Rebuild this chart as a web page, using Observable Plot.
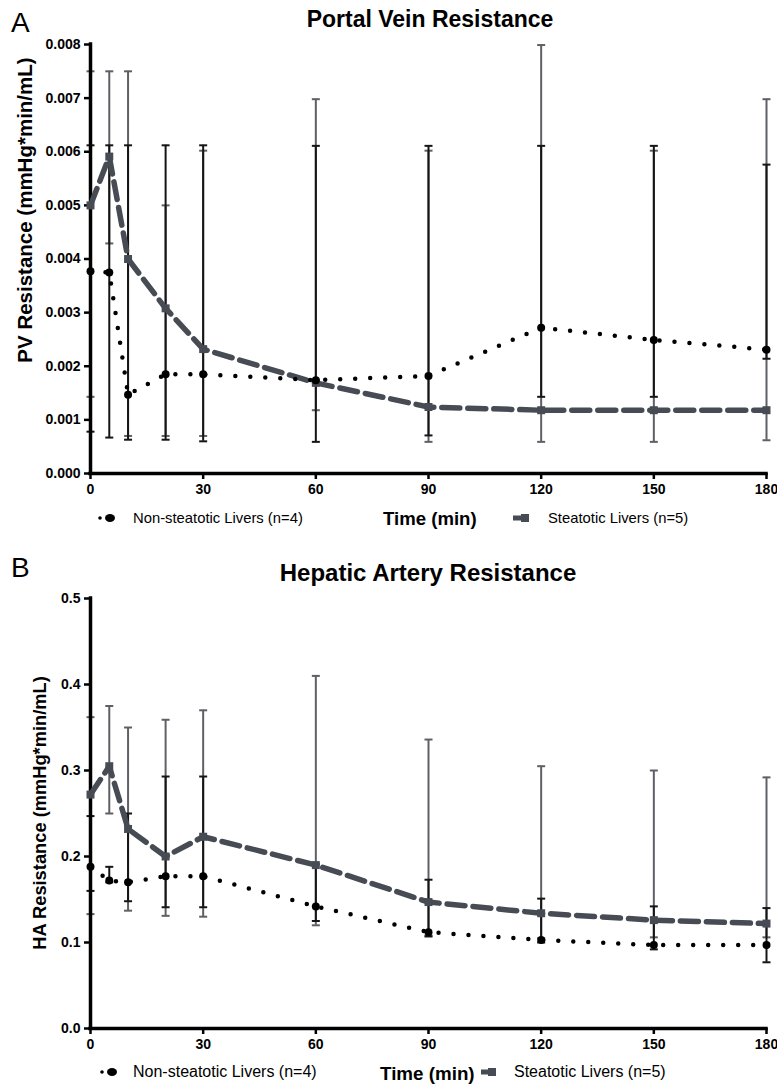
<!DOCTYPE html>
<html><head><meta charset="utf-8">
<script src="https://cdn.jsdelivr.net/npm/d3@7"></script>
<script src="https://cdn.jsdelivr.net/npm/@observablehq/plot@0.6"></script>
<style>
body{margin:0;background:#fff;font-family:"Liberation Sans",Arial,sans-serif;color:#000;}
#wrap{position:relative;width:777px;height:1089px;overflow:hidden;background:#fff;}
.abs{position:absolute;white-space:nowrap;line-height:1;}
.c{transform:translate(-50%,-50%);}
.rot{transform:translate(-50%,-50%) rotate(-90deg);}
.vm{transform:translateY(-50%);}
</style></head><body><div id="wrap"></div>
<script>
// ---------- data ----------
const time = [0, 5, 10, 20, 30, 60, 90, 120, 150, 180];
const xTicks = [0, 30, 60, 90, 120, 150, 180];

// Panel A: Portal vein resistance (mmHg*min/mL)
const pvNonMed = [0.00377, 0.00375, 0.00147, 0.00185, 0.00185, 0.00174, 0.00182, 0.00272, 0.00249, 0.00231];
const pvNonLo  = [0.00078, 0.00067, 0.00063, 0.00063, 0.00060, 0.00059, 0.00071, 0.00143, 0.00143, 0.00214];
const pvNonHi  = [0.00612, 0.00612, 0.00612, 0.00612, 0.00612, 0.00611, 0.00611, 0.00611, 0.00611, 0.00576];
const pvStMed  = [0.00500, 0.00591, 0.00400, 0.00308, 0.00232, 0.00169, 0.00124, 0.00118, 0.00118, 0.00118];
const pvStLo   = [0.00143, 0.00429, 0.00070, 0.00070, 0.00070, 0.00118, 0.00059, 0.00059, 0.00059, 0.00062];
const pvStHi   = [0.00750, 0.00750, 0.00750, 0.00500, 0.00602, 0.00698, 0.00602, 0.00799, 0.00602, 0.00698];
const pvYTicks = [0, 0.001, 0.002, 0.003, 0.004, 0.005, 0.006, 0.007, 0.008];

// Panel B: Hepatic artery resistance (mmHg*min/mL)
const haNonMed = [0.188, 0.172, 0.170, 0.177, 0.177, 0.142, 0.112, 0.103, 0.097, 0.097];
const haNonLo  = [0.160, 0.170, 0.148, 0.141, 0.141, 0.125, 0.107, 0.100, 0.092, 0.077];
const haNonHi  = [0.247, 0.188, 0.250, 0.293, 0.293, 0.191, 0.173, 0.151, 0.142, 0.140];
const haStMed  = [0.272, 0.305, 0.232, 0.200, 0.223, 0.190, 0.147, 0.134, 0.126, 0.122];
const haStLo   = [0.133, 0.250, 0.137, 0.131, 0.130, 0.120, 0.108, 0.105, 0.106, 0.106];
const haStHi   = [0.362, 0.375, 0.350, 0.359, 0.370, 0.410, 0.336, 0.305, 0.300, 0.292];
const haYTicks = [0, 0.1, 0.2, 0.3, 0.4, 0.5];

const seriesNames = ["Non-steatotic Livers (n=4)", "Steatotic Livers (n=5)"];
const xLabel = "Time (min)";

// ---------- drawing ----------
const NS = "#000000", ST = "#474b53", STBAR = "#5e6066", NSBAR = "#151515";
const FONT = "'Liberation Sans', Arial, sans-serif";
const wrap = document.getElementById("wrap");

const cap = {draw(ctx, size) { const r = Math.sqrt(size / Math.PI); ctx.moveTo(-r, 0); ctx.lineTo(r, 0); }};

function rows(med, lo, hi) { return time.map((t, i) => ({t, v: med[i], lo: lo[i], hi: hi[i]})); }

function panel({top, height, mTop, mBottom, yTicks, fmt, non, st}) {
  const yMax = yTicks[yTicks.length - 1];
  const svg = Plot.plot({
    width: 777, height,
    marginLeft: 90, marginRight: 11, marginTop: mTop, marginBottom: mBottom,
    style: {fontFamily: FONT, fontSize: "14px", fontWeight: "bold", color: "#000", background: "transparent", overflow: "visible"},
    x: {domain: [0, 180]},
    y: {domain: [0, yMax]},
    marks: [
      // error bars
      Plot.ruleX(st, {x: "t", y1: "lo", y2: "hi", stroke: STBAR, strokeWidth: 2}),
      Plot.dot(st, {x: "t", y: "lo", symbol: cap, r: 4, stroke: STBAR, fill: "none", strokeWidth: 2}),
      Plot.dot(st, {x: "t", y: "hi", symbol: cap, r: 4, stroke: STBAR, fill: "none", strokeWidth: 2}),
      Plot.ruleX(non, {x: "t", y1: "lo", y2: "hi", stroke: NSBAR, strokeWidth: 2}),
      Plot.dot(non, {x: "t", y: "lo", symbol: cap, r: 4, stroke: NSBAR, fill: "none", strokeWidth: 2}),
      Plot.dot(non, {x: "t", y: "hi", symbol: cap, r: 4, stroke: NSBAR, fill: "none", strokeWidth: 2}),
      // axes
      Plot.axisX({ticks: xTicks, tickSize: 6, tickPadding: 5, strokeWidth: 2.5, label: null, fontSize: 14, fontWeight: "bold"}),
      Plot.axisY({ticks: yTicks, tickFormat: d3.format(fmt), tickSize: 6, tickPadding: 4, strokeWidth: 2.5, label: null, fontSize: 14, fontWeight: "bold"}),
      Plot.ruleX([0], {stroke: "#000", strokeWidth: 3.5, strokeLinecap: "square"}),
      Plot.ruleY([0], {stroke: "#000", strokeWidth: 3.5, strokeLinecap: "square"}),
      // lines
      Plot.line(st, {x: "t", y: "v", stroke: ST, strokeWidth: 5.5, strokeDasharray: "18 8"}),
      Plot.line(non, {x: "t", y: "v", stroke: NS, strokeWidth: 4.5, strokeDasharray: "0 15", strokeLinecap: "round"}),
      // markers
      Plot.dot(st, {x: "t", y: "v", symbol: "square", r: 4.5, fill: ST}),
      Plot.dot(non, {x: "t", y: "v", r: 4, fill: NS})
    ]
  });
  svg.style.position = "absolute";
  svg.style.left = "0px";
  svg.style.top = top + "px";
  wrap.appendChild(svg);
}

function text(str, x, y, cls, css) {
  const d = document.createElement("div");
  d.className = "abs " + cls;
  d.textContent = str;
  d.style.left = x + "px"; d.style.top = y + "px";
  Object.assign(d.style, css || {});
  wrap.appendChild(d);
  return d;
}

function legendNS(x, y) {
  const ns = "http://www.w3.org/2000/svg";
  const s = document.createElementNS(ns, "svg");
  s.setAttribute("width", 22); s.setAttribute("height", 12);
  s.style.position = "absolute"; s.style.left = x + "px"; s.style.top = (y - 6) + "px";
  s.innerHTML = `<circle cx="3" cy="6" r="1.8" fill="${NS}"/><ellipse cx="13" cy="6" rx="5" ry="4" fill="${NS}"/>`;
  wrap.appendChild(s);
}
function legendST(x, y, w) {
  const ns = "http://www.w3.org/2000/svg";
  const s = document.createElementNS(ns, "svg");
  s.setAttribute("width", w); s.setAttribute("height", 12);
  s.style.position = "absolute"; s.style.left = x + "px"; s.style.top = (y - 6) + "px";
  s.innerHTML = `<rect x="0" y="3.5" width="${w}" height="5" fill="${ST}"/><rect x="${w - 8}" y="2" width="8" height="8" fill="${ST}"/>`;
  wrap.appendChild(s);
}

// Panel A
panel({top: 0, height: 500, mTop: 44, mBottom: 27, yTicks: pvYTicks, fmt: ".3f",
  non: rows(pvNonMed, pvNonLo, pvNonHi), st: rows(pvStMed, pvStLo, pvStHi)});
text("A", 11, 9, "", {fontSize: "28px"});
text("Portal Vein Resistance", 430, 19, "c", {fontSize: "23px", fontWeight: "bold"});
text("PV Resistance (mmHg*min/mL)", 25, 210, "rot", {fontSize: "20.5px", fontWeight: "bold"});
legendNS(97, 518);
text(seriesNames[0], 133, 518, "vm", {fontSize: "14.8px"});
text(xLabel, 383, 519, "vm", {fontSize: "18.6px", fontWeight: "bold"});
legendST(513, 518, 16);
text(seriesNames[1], 548, 518, "vm", {fontSize: "14.8px"});

// Panel B
panel({top: 560, height: 500, mTop: 38, mBottom: 32, yTicks: haYTicks, fmt: ".1f",
  non: rows(haNonMed, haNonLo, haNonHi), st: rows(haStMed, haStLo, haStHi)});
text("B", 11, 554, "", {fontSize: "28px"});
text("Hepatic Artery Resistance", 428, 573, "c", {fontSize: "24px", fontWeight: "bold"});
text("HA Resistance (mmHg*min/mL)", 40, 813, "rot", {fontSize: "18.3px", fontWeight: "bold"});
legendNS(99, 1072);
text(seriesNames[0], 133, 1072, "vm", {fontSize: "16px"});
text(xLabel, 380, 1074, "vm", {fontSize: "18.8px", fontWeight: "bold"});
legendST(481, 1072, 15);
text(seriesNames[1], 514, 1072, "vm", {fontSize: "16px"});
</script></body></html>
